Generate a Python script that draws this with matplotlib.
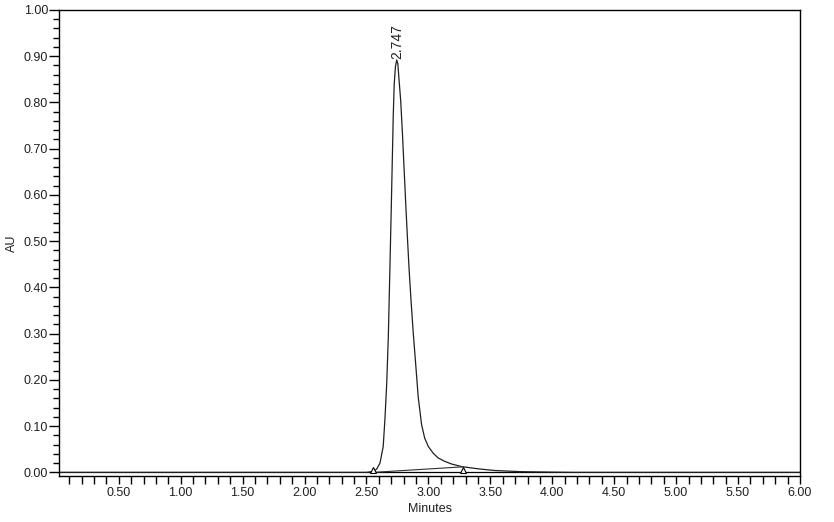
import numpy as np
import matplotlib
matplotlib.use('Agg')
from matplotlib import pyplot as plt
from matplotlib.ticker import MultipleLocator, FixedLocator

plt.rcParams['font.family'] = ['Liberation Sans', 'DejaVu Sans']

# chromatogram trace (minutes, AU)
time = [0.02, 2.50, 2.555, 2.582, 2.609, 2.635, 2.649, 2.663, 2.676, 2.689,
        2.700, 2.708, 2.716, 2.724, 2.734, 2.744, 2.753, 2.762, 2.776, 2.790,
        2.803, 2.818, 2.832, 2.845, 2.860, 2.878, 2.897, 2.918, 2.945, 2.970,
        2.999, 3.040, 3.080, 3.130, 3.188, 3.268, 3.403, 3.537, 3.75, 4.00,
        4.17, 6.00]
signal = [0.0, 0.0, 0.002, 0.007, 0.020, 0.056, 0.115, 0.19, 0.29, 0.44,
          0.57, 0.67, 0.77, 0.84, 0.878, 0.892, 0.884, 0.852, 0.805, 0.735,
          0.660, 0.575, 0.500, 0.435, 0.370, 0.300, 0.235, 0.162, 0.103, 0.074,
          0.056, 0.041, 0.031, 0.024, 0.018, 0.0125, 0.0076, 0.004, 0.0015, 0.0005,
          0.0, 0.0]

# integration baseline start / end
base_t = [2.555, 3.28]
base_y = [0.0, 0.012]

peak_t = 2.752
peak_y = 0.895
peak_label = '2.747'

x_ticks = [0.5, 1.0, 1.5, 2.0, 2.5, 3.0, 3.5, 4.0, 4.5, 5.0, 5.5, 6.0]
y_ticks = [0.0, 0.1, 0.2, 0.3, 0.4, 0.5, 0.6, 0.7, 0.8, 0.9, 1.0]

fig = plt.figure(figsize=(8.34, 5.22), dpi=100)
ax = fig.add_axes([59.3 / 834, 1 - 475.7 / 522, (800 - 59.3) / 834, (475.7 - 10) / 522])

ax.axhline(0.0, color='black', lw=0.9, zorder=1)
ax.plot(time, signal, color='#202020', lw=0.9, zorder=2)
ax.plot(base_t, base_y, color='#303030', lw=0.8, zorder=2)
ax.plot(base_t, [0.0045, 0.0045], ls='none', marker='^', ms=4.5,
        mfc='white', mec='black', mew=0.8, zorder=3)

ax.text(peak_t, peak_y, peak_label, rotation=90, ha='center', va='bottom',
        fontsize=10, color='#202020')

ax.set_xlim(0.02, 6.0)
ax.set_ylim(-0.0072, 1.0)

ax.xaxis.set_major_locator(FixedLocator(x_ticks))
ax.xaxis.set_minor_locator(MultipleLocator(0.1))
ax.yaxis.set_major_locator(FixedLocator(y_ticks))
ax.yaxis.set_minor_locator(MultipleLocator(0.02))
ax.set_xticklabels(['%.2f' % v for v in x_ticks])
ax.set_yticklabels(['%.2f' % v for v in y_ticks])

ax.tick_params(axis='x', which='both', direction='out', length=6, width=1,
               labelsize=9, pad=2, labelcolor='#202020')
ax.tick_params(axis='y', which='major', direction='out', length=7, width=1,
               labelsize=9, pad=1, labelcolor='#202020')
ax.tick_params(axis='y', which='minor', direction='out', length=4, width=1)

for s in ax.spines.values():
    s.set_linewidth(1)

ax.set_xlabel('Minutes', fontsize=9, labelpad=3, color='#202020')
ax.set_ylabel('AU', fontsize=9, labelpad=4, color='#202020')

fig.savefig('out.png', dpi=100)
